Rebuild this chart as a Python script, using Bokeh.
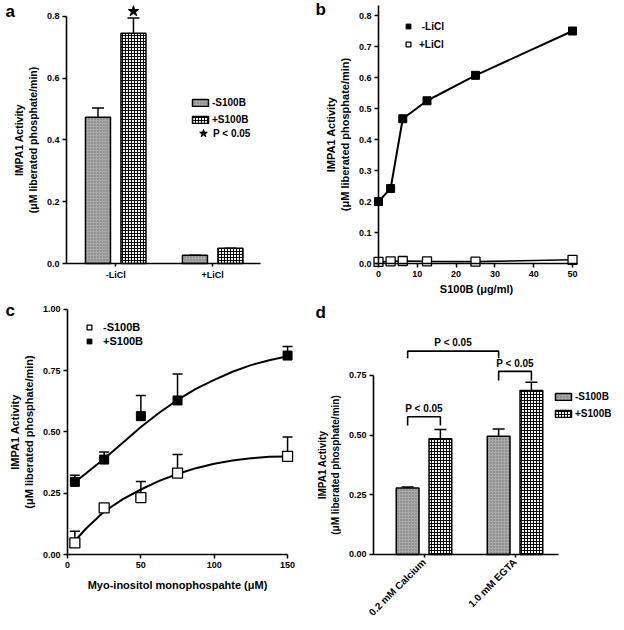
import math
from bokeh.plotting import figure
from bokeh.layouts import column, row
from bokeh.core.properties import value
from bokeh.models import (ColumnDataSource, Range1d, FixedTicker, Whisker, TeeHead,
                          Legend, LegendItem, Label, NumeralTickFormatter)
from bokeh.embed import file_html
from bokeh.resources import INLINE

FONT = "Liberation Sans"

# ---------------- data ----------------
# panel a
a_groups = ["-LiCl", "+LiCl"]
a_minus_s100b = [0.474, 0.027]
a_minus_err = [0.030, 0.0]
a_plus_s100b = [0.746, 0.049]
a_plus_err = [0.049, 0.0]

# panel b
b_s100b = [0, 3.125, 6.25, 12.5, 25, 50]
b_minus_licl = [0.200, 0.242, 0.467, 0.525, 0.607, 0.750]
b_plus_licl = [0.005, 0.007, 0.008, 0.007, 0.006, 0.012]

# panel c
c_conc = [5, 25, 50, 75, 150]
c_minus_s100b = [0.047, 0.190, 0.232, 0.332, 0.400]
c_minus_err = [0.048, 0.0, 0.066, 0.076, 0.079]
c_plus_s100b = [0.296, 0.387, 0.564, 0.628, 0.811]
c_plus_err = [0.027, 0.031, 0.084, 0.108, 0.037]
c_fit_x = [5, 12.5, 25, 37.5, 50, 62.5, 75, 87.5, 100, 112.5, 125, 137.5, 150]
c_fit_minus = [0.055, 0.105, 0.175, 0.225, 0.265, 0.300, 0.328, 0.352, 0.370, 0.383, 0.392, 0.398, 0.400]
c_fit_plus = [0.295, 0.330, 0.390, 0.455, 0.520, 0.578, 0.630, 0.675, 0.712, 0.745, 0.772, 0.792, 0.808]

# panel d
d_groups = ["0.2 mM Calcium", "1.0 mM EGTA"]
d_minus_s100b = [0.279, 0.495]
d_minus_err = [0.004, 0.031]
d_plus_s100b = [0.485, 0.687]
d_plus_err = [0.039, 0.035]
d_p_text = "P < 0.05"
bracket_levels = [0.577, 0.767, 0.852]

# ---------------- styles ----------------
MINUS_STYLE = dict(fill_color="#a9a9a9", hatch_pattern="dot", hatch_scale=3,
                   hatch_color="#6e6e6e", hatch_weight=1, line_color="black", line_width=1.5)
PLUS_STYLE = dict(fill_color="white", hatch_pattern="cross", hatch_scale=3,
                  hatch_color="black", hatch_weight=1.1, line_color="black", line_width=1.5)


def style(p, yfmt=None, label_size="10.5px"):
    p.grid.visible = False
    p.outline_line_color = None
    p.background_fill_color = "white"
    p.border_fill_color = "white"
    for ax in (p.xaxis[0], p.yaxis[0]):
        ax.axis_line_width = 1.6
        ax.axis_line_color = "black"
        ax.major_tick_line_width = 1.5
        ax.major_tick_out = 4
        ax.major_tick_in = 0
        ax.minor_tick_line_color = None
        ax.major_label_text_font = FONT
        ax.major_label_text_font_style = "bold"
        ax.major_label_text_font_size = "9px"
        ax.major_label_text_color = "black"
        ax.major_label_standoff = 3
        ax.axis_label_text_font = FONT
        ax.axis_label_text_font_style = "bold"
        ax.axis_label_text_font_size = label_size
        ax.axis_label_text_color = "black"
        ax.axis_label_standoff = 5
    if yfmt:
        p.yaxis[0].formatter = NumeralTickFormatter(format=yfmt)


def panel_letter(p, text, x, y):
    p.add_layout(Label(x=x, y=y, x_units="screen", y_units="screen", text=text,
                       text_font=FONT, text_font_style="bold", text_font_size="17px",
                       text_color="black"))


def make_legend(items, x, y, glyph_w, glyph_h, label_h, spacing, standoff, size="10px"):
    return Legend(items=items, location=(x, y), orientation="vertical",
                  border_line_color=None, background_fill_alpha=0, padding=0, margin=0,
                  glyph_width=glyph_w, glyph_height=glyph_h, label_height=label_h,
                  spacing=spacing, label_standoff=standoff,
                  label_text_font=FONT, label_text_font_style="bold",
                  label_text_font_size=size, label_text_color="black")


def fig(w, h, xr, yr):
    return figure(width=w, height=h, x_range=Range1d(*xr), y_range=Range1d(*yr),
                  output_backend="svg", toolbar_location=None,
                  min_border_left=0, min_border_right=0,
                  min_border_top=0, min_border_bottom=0)


YLAB = "IMPA1 Activity\n(\u03bcM liberated phosphate/min)"

# ---------------- panel a ----------------
pa = fig(312, 302, (-0.188, 3.029), (-0.1263, 0.8518))
style(pa, yfmt="0.0")
pos = [i + 1 for i in range(len(a_groups))]
off, bw = 0.183, 0.258
sa_m = ColumnDataSource(dict(x=[v - off for v in pos], y=a_minus_s100b,
                             top=[v + e for v, e in zip(a_minus_s100b, a_minus_err)]))
sa_p = ColumnDataSource(dict(x=[v + off for v in pos], y=a_plus_s100b,
                             top=[v + e for v, e in zip(a_plus_s100b, a_plus_err)]))
for s in (sa_m, sa_p):
    pa.add_layout(Whisker(source=s, base="x", lower="y", upper="top", dimension="height",
                          line_color="black", line_width=1.5,
                          upper_head=TeeHead(size=12, line_width=1.5), lower_head=None))
ra_m = pa.vbar(x="x", top="y", bottom=0, width=bw, source=sa_m, **MINUS_STYLE)
ra_p = pa.vbar(x="x", top="y", bottom=0, width=bw, source=sa_p, **PLUS_STYLE)
star_src = ColumnDataSource(dict(x=[pos[0] + off], y=[a_plus_s100b[0] + a_plus_err[0] + 0.022]))
ra_s = pa.scatter(x="x", y="y", source=star_src, marker="star", size=11,
                  fill_color="black", line_color="black")
pa.xaxis[0].fixed_location = 0
pa.xaxis[0].ticker = FixedTicker(ticks=pos)
pa.xaxis[0].major_label_overrides = {p_: g for p_, g in zip(pos, a_groups)}
pa.xaxis[0].major_tick_out = 3
pa.xaxis[0].bounds = (0.492, 2.492)
pa.yaxis[0].fixed_location = 0.492
pa.yaxis[0].ticker = FixedTicker(ticks=[0, 0.2, 0.4, 0.6, 0.8])
pa.yaxis[0].bounds = (0, 0.8)
pa.yaxis[0].axis_label = YLAB
pa.add_layout(make_legend([LegendItem(label="-S100B", renderers=[ra_m]),
                           LegendItem(label="+S100B", renderers=[ra_p])],
                          190, 176, 20, 9, 13, 4, 2))
pa.add_layout(make_legend([LegendItem(label="P < 0.05", renderers=[ra_s])],
                          193, 159, 20, 20, 13, 0, 0))
panel_letter(pa, "a", 5, 282)

# ---------------- panel b ----------------
pb = fig(312, 302, (-17.01, 63.40), (-0.1258, 0.8484))
style(pb, yfmt="0.0", label_size="11px")
pb.line(b_s100b, b_minus_licl, line_color="black", line_width=2)
pb.line(b_s100b, b_plus_licl, line_color="black", line_width=1.6)
rb_m = pb.scatter(b_s100b, b_minus_licl, marker="square", size=8, fill_color="black",
                  line_color="black")
rb_p = pb.scatter(b_s100b, b_plus_licl, marker="square", size=9, fill_color="white",
                  line_color="black", line_width=1.3)
pb.xaxis[0].fixed_location = 0
pb.xaxis[0].ticker = FixedTicker(ticks=[0, 10, 20, 30, 40, 50])
pb.xaxis[0].bounds = (-0.8, 51.3)
pb.yaxis[0].fixed_location = 0
pb.yaxis[0].ticker = FixedTicker(ticks=[0, 0.1, 0.2, 0.3, 0.4, 0.5, 0.6, 0.7, 0.8])
pb.yaxis[0].bounds = (0, 0.832)
pb.yaxis[0].axis_label = YLAB
pb.xaxis[0].axis_label = "S100B (\u03bcg/ml)"
pb.xaxis[0].axis_label_standoff = 3
pb.add_layout(make_legend([LegendItem(label=" -LiCl", renderers=[rb_m]),
                           LegendItem(label="+LiCl", renderers=[rb_p])],
                          90, 251, 12, 12, 14, 4, 5))
panel_letter(pb, "b", 3, 284)

# ---------------- panel c ----------------
pc = fig(312, 328, (-45.68, 167.0), (-0.3098, 1.0273))
style(pc, yfmt="0.00", label_size="11px")
sc_m = ColumnDataSource(dict(x=c_conc, y=c_minus_s100b,
                             top=[v + e for v, e in zip(c_minus_s100b, c_minus_err)]))
sc_p = ColumnDataSource(dict(x=c_conc, y=c_plus_s100b,
                             top=[v + e for v, e in zip(c_plus_s100b, c_plus_err)]))
for s in (sc_m, sc_p):
    pc.add_layout(Whisker(source=s, base="x", lower="y", upper="top", dimension="height",
                          line_color="black", line_width=1.5,
                          upper_head=TeeHead(size=10, line_width=1.5), lower_head=None))
pc.line(c_fit_x, c_fit_minus, line_color="black", line_width=2)
pc.line(c_fit_x, c_fit_plus, line_color="black", line_width=2)
rc_m = pc.scatter(x="x", y="y", source=sc_m, marker="square", size=10, fill_color="white",
                  line_color="black", line_width=1.3)
rc_p = pc.scatter(x="x", y="y", source=sc_p, marker="square", size=9, fill_color="black",
                  line_color="black")
pc.xaxis[0].fixed_location = 0
pc.xaxis[0].ticker = FixedTicker(ticks=[0, 50, 100, 150])
pc.xaxis[0].bounds = (0, 150)
pc.yaxis[0].fixed_location = 0
pc.yaxis[0].ticker = FixedTicker(ticks=[0, 0.25, 0.5, 0.75, 1.0])
pc.yaxis[0].bounds = (0, 1.0)
pc.yaxis[0].axis_label = YLAB
pc.xaxis[0].axis_label = "Myo-inositol monophospahte (\u03bcM)"
pc.xaxis[0].axis_label_standoff = 8
pc.add_layout(make_legend([LegendItem(label="-S100B", renderers=[rc_m]),
                           LegendItem(label="+S100B", renderers=[rc_p])],
                          83, 283, 12, 12, 13, 1, 8, size="11px"))
panel_letter(pc, "c", 5, 311)

# ---------------- panel d ----------------
pd_ = fig(312, 328, (-0.2253, 3.203), (-0.3184, 1.0557))
style(pd_, yfmt="0.00", label_size="10px")
dpos = [i + 1 for i in range(len(d_groups))]
doff, dbw = 0.18, 0.25
sd_m = ColumnDataSource(dict(x=[v - doff for v in dpos], y=d_minus_s100b,
                             top=[v + e for v, e in zip(d_minus_s100b, d_minus_err)]))
sd_p = ColumnDataSource(dict(x=[v + doff for v in dpos], y=d_plus_s100b,
                             top=[v + e for v, e in zip(d_plus_s100b, d_plus_err)]))
for s in (sd_m, sd_p):
    pd_.add_layout(Whisker(source=s, base="x", lower="y", upper="top", dimension="height",
                           line_color="black", line_width=1.5,
                           upper_head=TeeHead(size=12, line_width=1.5), lower_head=None))
rd_m = pd_.vbar(x="x", top="y", bottom=0, width=dbw, source=sd_m, **MINUS_STYLE)
rd_p = pd_.vbar(x="x", top="y", bottom=0, width=dbw, source=sd_p, **PLUS_STYLE)
# significance brackets: calcium pair, EGTA pair, -S100B calcium vs EGTA
pairs = [(dpos[0] - doff, dpos[0] + doff), (dpos[1] - doff, dpos[1] + doff),
         (dpos[0] - doff, dpos[1] - doff)]
drops = [0.037, 0.038, 0.030]
bx, by = [], []
for (x0, x1), lvl, dr in zip(pairs, bracket_levels, drops):
    bx.append([x0, x0, x1, x1])
    by.append([lvl - dr, lvl, lvl, lvl - dr])
pd_.multi_line(bx, by, line_color="black", line_width=1.6)
pd_.text(x=[(a + b) / 2 for a, b in pairs], y=[l + 0.012 for l in bracket_levels],
         text=[d_p_text] * 3, text_align="center", text_baseline="bottom",
         text_font=value(FONT), text_font_style="bold", text_font_size="10px",
         text_color="black")
pd_.xaxis[0].fixed_location = 0
pd_.xaxis[0].ticker = FixedTicker(ticks=dpos)
pd_.xaxis[0].major_label_overrides = {p_: g for p_, g in zip(dpos, d_groups)}
pd_.xaxis[0].major_label_orientation = math.pi / 4
pd_.xaxis[0].major_label_text_font_size = "10px"
pd_.xaxis[0].major_tick_out = 3
pd_.xaxis[0].bounds = (0.445, 2.478)
pd_.yaxis[0].fixed_location = 0.445
pd_.yaxis[0].ticker = FixedTicker(ticks=[0, 0.25, 0.5, 0.75])
pd_.yaxis[0].bounds = (0, 0.75)
pd_.yaxis[0].axis_label = YLAB
pd_.add_layout(make_legend([LegendItem(label="-S100B", renderers=[rd_m]),
                            LegendItem(label="+S100B", renderers=[rd_p])],
                           241, 210, 20, 9, 14, 3, 2))
panel_letter(pd_, "d", 3, 309)

layout = column(row(pa, pb), row(pc, pd_))
open("out.html", "w").write(file_html(layout, INLINE))
